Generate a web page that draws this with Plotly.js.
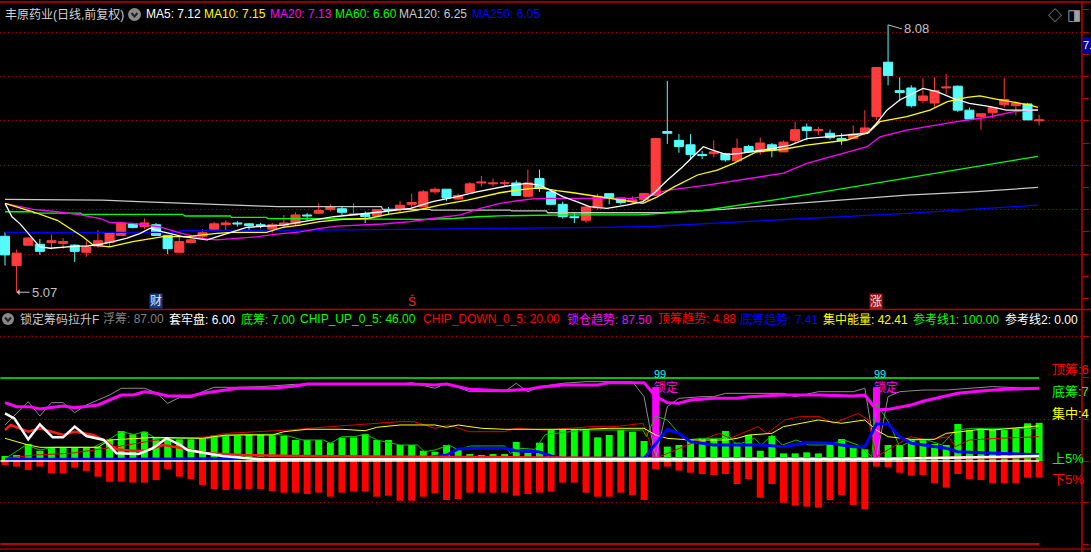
<!DOCTYPE html>
<html>
<head>
<meta charset="utf-8">
<script src="https://cdn.plot.ly/plotly-3.0.1.min.js"></script>
<style>
  html, body { margin: 0; padding: 0; background: #000; }
  #plot { width: 1091px; height: 552px; }
</style>
</head>
<body>
<div id="plot"></div>
<script>
// K线 (index 0..89)
const open = [5.70,5.37,5.60,5.61,5.63,5.62,5.60,5.52,5.59,5.63, 5.71,5.84,5.81,5.83,5.71,5.52,5.63,5.70,5.78,5.83,
  5.85,5.84,5.83,5.78,5.82,5.84,5.94,5.96,6.00,6.01, 5.94,5.95,5.93,6.00,6.00,6.06,6.03,6.20,6.23,6.12,
  6.19,6.30,6.29,6.30,6.30,6.15,6.35,6.20,6.06,5.92, 5.88,6.02,6.18,6.13,6.09,6.11,6.16,6.88,6.78,6.73,
  6.62,6.63,6.63,6.55,6.71,6.65,6.73,6.65,6.78,6.93, 6.89,6.86,6.80,6.80,6.86,7.05,7.66,7.34,7.37,7.23,
  7.20,7.37,7.39,7.12,7.05,7.09,7.18,7.17,7.19,7.00];
const high = [5.75,5.55,5.69,5.67,5.72,5.68,5.61,5.65,5.77,5.75, 5.86,5.85,5.90,5.85,5.71,5.70,5.67,5.78,5.86,5.88,
  5.87,5.85,5.85,5.85,5.94,5.97,5.96,6.07,6.06,6.03, 6.07,5.98,6.00,6.03,6.10,6.18,6.22,6.25,6.23,6.18,
  6.31,6.38,6.35,6.33,6.33,6.45,6.45,6.22,6.09,5.96, 6.05,6.18,6.18,6.13,6.15,6.19,6.80,7.45,6.85,6.85,
  6.66,6.78,6.64,6.80,6.73,6.81,6.75,6.78,6.99,6.97, 6.93,6.90,6.86,6.95,7.12,7.60,8.08,7.49,7.40,7.48,
  7.49,7.53,7.40,7.15,7.08,7.15,7.48,7.22,7.20,7.07];
const low = [5.37,5.07,5.59,5.49,5.55,5.56,5.41,5.47,5.57,5.58, 5.71,5.79,5.78,5.71,5.50,5.52,5.62,5.68,5.77,5.77,
  5.81,5.76,5.79,5.74,5.79,5.82,5.88,5.95,5.98,5.94, 5.94,5.85,5.93,5.95,5.97,6.03,6.03,6.18,6.10,6.11,
  6.19,6.26,6.26,6.26,6.16,6.15,6.20,6.05,5.90,5.85, 5.85,6.00,6.06,6.06,6.07,6.10,6.16,6.74,6.64,6.56,
  6.57,6.59,6.54,6.55,6.64,6.62,6.59,6.65,6.75,6.78, 6.84,6.79,6.73,6.80,6.84,7.01,7.40,7.22,7.15,7.20,
  7.15,7.30,7.10,7.01,6.90,7.03,7.15,7.06,7.01,6.95];
const close = [5.49,5.51,5.68,5.53,5.65,5.64,5.53,5.58,5.65,5.74, 5.85,5.80,5.85,5.71,5.56,5.64,5.66,5.74,5.84,5.85,
  5.84,5.82,5.82,5.83,5.85,5.94,5.93,5.99,6.03,5.97, 5.95,5.92,6.00,5.99,6.05,6.08,6.20,6.23,6.13,6.16,
  6.29,6.31,6.30,6.30,6.16,6.30,6.24,6.06,5.92,5.91, 6.03,6.15,6.13,6.08,6.11,6.18,6.80,6.86,6.71,6.62,
  6.61,6.65,6.56,6.69,6.65,6.75,6.67,6.76,6.90,6.89, 6.90,6.81,6.78,6.85,6.92,7.60,7.51,7.32,7.17,7.28,
  7.34,7.38,7.12,7.02,7.08,7.15,7.24,7.20,7.01,7.01];
const idx = open.map((_, i) => i);

// 均线 (sampled along the drawn lines)
const ma5Idx = [0,0.6,1.3,1.9,3,3.9,6.2,7,8.2,9.3,10.5,11.6,12.5,13.6,15.3,17.4,18.2,19.6,20.8,22.5,23.9,25.4,26.9,28.3,32.5,34.9,36.8,38.9,40.6,41.7,43.2,44.9,46,46.9,48,49.2,50.3,51.8,53.5,54.9,55.8,57,58.3,59.2,60.1,60.9,62.1,63.3,64.7,66.1,67.6,69,70.7,72.5,74.2,75,75.9,77,77.9,79,80.2,81.6,83,84.8,86.2,88.9];
const ma5 = [6.07,5.92,5.84,5.75,5.58,5.565,5.59,5.59,5.61,5.64,5.68,5.73,5.79,5.75,5.695,5.66,5.695,5.75,5.80,5.815,5.826,5.86,5.89,5.92,5.976,6.015,6.09,6.146,6.20,6.229,6.266,6.296,6.277,6.22,6.146,6.09,6.033,6.015,6.05,6.09,6.18,6.33,6.48,6.596,6.708,6.67,6.62,6.634,6.66,6.69,6.727,6.80,6.82,6.84,6.86,6.97,7.12,7.234,7.29,7.366,7.328,7.253,7.197,7.159,7.12,7.12];
const ma10Idx = [0,1,2.4,4.5,5.6,6.7,7.6,9,11,13.6,15.7,18.2,19.6,22.5,23.9,25.4,27.1,29.1,31.2,33.1,35.5,37.4,39.8,41.1,42.6,44.1,45.4,46.3,47.5,48.9,50.3,51.2,52.9,54,54.9,56.1,57.5,59.6,61.3,62.7,64.7,67,69,72.5,74.4,75.3,77.6,79.6,81.1,82.8,83.9,85.4,87.1,88.2,88.9];
const ma10 = [6.07,6.033,5.976,5.88,5.79,5.695,5.60,5.58,5.64,5.695,5.695,5.733,5.744,5.744,5.80,5.826,5.864,5.89,5.90,5.95,5.995,6.05,6.108,6.146,6.19,6.22,6.24,6.24,6.213,6.19,6.164,6.146,6.115,6.09,6.07,6.14,6.25,6.39,6.446,6.52,6.652,6.68,6.727,6.784,6.877,6.99,7.046,7.12,7.215,7.265,7.28,7.242,7.204,7.178,7.152];
const ma20Idx = [0,1,2.4,4.5,6.5,8.2,9,11,13.3,15.2,17,18.2,19.6,21.7,23.4,25.4,27.1,28.6,32.5,34.9,36.8,39.2,40.9,42.6,44.1,45.4,46.6,54,54.9,56.1,57.1,60.4,63.3,67,69,72.1,74.2,75.3,77.6,81.9,84.8,86.7,88.9];
const ma20 = [6.07,6.04,6.003,5.976,5.94,5.90,5.856,5.845,5.807,5.733,5.677,5.66,5.677,5.695,5.725,5.75,5.79,5.815,5.838,5.864,5.90,5.94,6.015,6.07,6.10,6.12,6.127,6.127,6.146,6.183,6.22,6.277,6.333,6.41,6.52,6.634,6.708,6.82,6.896,6.99,7.046,7.10,7.13];
const ma60Idx = [0,2.4,2.5,6.5,6.6,15.3,15.5,19.4,19.5,22.5,22.6,31,36,38.6,40.6,42.6,48.4,54.6,60.1,66.1,74.7,81.9,88.9];
const ma60 = [5.976,5.976,5.96,5.96,5.947,5.947,5.928,5.928,5.913,5.913,5.90,5.89,5.89,5.90,5.92,5.93,5.94,5.94,5.99,6.108,6.296,6.446,6.60];
const ma120Idx = [0,8.4,11.5,13.6,16.5,21.5,23.5,32.4,32.5,36.6,36.7,43.5,43.6,46.6,46.7,56.5,61.8,66.1,71.9,77.6,83.3,88.9];
const ma120 = [6.116,6.108,6.09,6.08,6.07,6.05,6.033,6.033,6.003,6.003,5.995,5.995,5.985,5.985,5.965,5.965,6.003,6.05,6.108,6.164,6.20,6.25];
const ma250Idx = [0,15,15.1,26.5,26.6,34,46.6,51.2,55.5,66.1,77.6,88.9];
const ma250 = [5.744,5.744,5.762,5.762,5.77,5.778,5.79,5.80,5.81,5.883,5.958,6.05];

// 锁定筹码拉升F
const chipUp = [6.0,7.2,20.5,12.4,16.5,16.5,16.5,16.5,17.3,26.1, 36.1,32.1,35.3,28.1,28.1,26.1,26.1,27.3,30.9,31.3,
  30.9,32.1,32.1,30.9,30.1,25.3,25.3,25.3,22.1,28.1, 28.5,32.5,25.3,25.3,19.3,19.3,12.4,11.2,19.3,14.9,
  8.4,7.2,8.4,8.4,22.9,10.0,22.1,38.2,38.2,38.2, 38.2,28.5,31.3,37.3,35.3,24.1,3.0,17.3,19.3,25.3,
  26.5,26.5,36.1,22.1,31.3,12.4,30.1,9.2,9.2,10.4, 9.2,20.5,26.5,17.3,14.1,3.0,19.3,19.3,26.1,26.1,
  20.5,19.3,44.6,37.3,39.4,38.2,37.3,39.4,45.4,46.0];
const chipDown = [4.8,6.8,10.8,6.8,14.9,14.9,8.0,12.0,18.9,24.9, 24.9,26.1,26.1,22.9,9.6,18.9,21.7,28.9,33.7,34.9,
  33.7,33.7,33.7,36.1,38.2,38.2,39.8,38.2,43.0,38.2, 36.9,36.9,43.0,41.8,47.8,47.8,43.0,39.0,47.0,45.8,
  38.2,38.2,38.2,38.2,41.8,39.8,38.2,36.9,26.1,26.1, 38.2,43.0,43.0,38.2,41.0,47.0,10.0,6.8,11.6,14.1,
  15.7,16.9,15.7,27.7,21.7,44.2,27.7,50.2,53.8,55.0, 56.2,47.0,41.0,53.0,58.2,6.8,7.6,14.1,17.7,16.9,
  26.9,32.1,15.7,21.7,22.9,26.9,26.9,26.9,20.1,20.0];
const lockIdx = [56, 75];
const lockTop = [89, 89];
const lockText = ['99', '99'];

const lockTrendIdx = [0,1,2,3,5,6,8,9,10,11,12,13,14,16,17,19,20,23,25,26,35,37,38,40,42,43,45,46,48,51,52,55,56,57,58,59,61,63,64,67,70,73,74,75,76,78,79,82,84,86,89];
const lockTrend = [70.3,65.5,65.5,62.7,66.3,64.3,67.5,73.5,79.5,79.5,83.5,81.5,78.3,78.3,81.5,85.5,87.6,87.6,90.4,92.8,92.8,91.6,92.8,86.3,84.7,84.7,86.3,88.8,91.6,91.6,94.4,94.4,77.5,70.3,69.5,73.5,75.5,75.5,77.5,79.5,79.5,78.3,79.5,61.4,62.2,67.5,72,81.5,84.3,86.3,87.5];
const floatIdx = [0,2,3,4,5,6,7,8,9,10,12,13,14,15,16,17,18,20,22,25,34,35,37,38,40,43,44,45,46,48,50,54,55,56,57,58,60,61,62,67,68,70,73,74,75,76,77,79,81,85,89];
const floatChip = [43.4,71.5,54.2,70.3,70.3,58.2,67.5,73.5,79.5,87.6,87.6,82.3,69.5,76.3,76.3,83.5,88.8,88.8,89.6,92.4,92.4,94.4,87.6,93.6,83.5,83.5,93.6,83.5,89.6,93.6,95.6,95.6,77.5,3.2,65.5,75.5,77.5,77.5,81.5,81.5,77.5,83.5,83.5,87.6,3.2,77.5,83.5,85.5,85.5,89.6,87.0];
const energyIdx = [0,2,3,8,9,13,17,19,23,24,26,29,31,32,34,37,38,39,41,43,47,50,52,55,56,57,59,62,63,64,66,67,70,72,74,75,76,78,80,81,84,85,89];
const energy = [27.3,19.3,16.5,16.5,25.3,28.5,27.3,31.3,31.3,35.3,38.2,38.2,36.5,40.6,43.4,43.4,40.6,43.4,39.4,38.2,38.2,38.2,39.4,39.4,31.3,27.3,25.3,25.3,27.3,31.3,33.3,41.4,49.4,45.4,49.4,37.3,29.3,26.1,26.1,33.3,38.2,37.3,42.4];
const bottomTrendIdx = [0,10,25,36,38,39,40,43,44,46,47,48,55,56,57,58,59,61,65,67,69,70,71,73,74,75,76,77,78,81,82,84,89];
const bottomTrend = [2.0,2.0,3.2,3.2,7.2,14.5,15.3,15.3,12.4,11,6,3.2,3.2,20,38.2,33.3,23.3,19.3,19.3,17.3,22.1,22.1,21.3,17.3,17.3,44.6,44.6,29.3,21.3,15.3,11.2,10.0,7.4];
const topTrendIdx = [0,0.5,2,3,5,6,7.6,8.5,9.6,10.9,12.1,13.6,14.8,17.5,20.5,25,35,46,56,75,89];
const topTrend = [37.3,43.4,35.3,39.4,31.3,35.3,31.3,25.3,14.1,12.4,12.4,19.3,16.5,9.2,7.2,6.0,5.2,4.5,3.2,3.2,4.88];
const trappedIdx = [0,0.8,2,3,4.1,5,6,7,8.5,9.6,11.5,12.7,13.9,15.1,15.7,17.5,18.7,22,40,56,75,89];
const trapped = [57.4,51.4,26.1,44.2,28.5,28.5,41.4,30.1,25.3,9.2,8.4,15.3,27.3,19.3,13.3,9.2,6.0,2.0,2.0,2.5,2.5,6.0];
const topChipIdx = [0,2.6,5.6,9.7,13,17.5,19,24.4,28,34,35.2,37,38.2,39.9,43,43.9,46.5,50.4,52.5,54.9,56,57,59.1,61.5,62.4,64.8,65.6,67.1,68.4,70.1,71.3,72,73.4,74.3,75,77.9,79.4,81.2,81.8,83,85.4,89];
const topChip = [3.2,7.2,9.2,17.3,25.3,29.3,33.3,37.3,41.4,47.4,47.4,39.4,43.4,35.3,35.3,39.4,37.3,41.4,41.4,45.4,3.2,9.2,21.3,33.3,27.3,41.4,33.3,49.4,53.4,53.4,45.4,49.4,57.4,49.4,5.2,29.3,25.3,29.3,17.3,25.3,27.3,29.3];
const bottomChipIdx = [0,0.5,1.8,3,4.1,7.6,9.1,10,11.1,12,13,14.5,17.5,19,20.5,23.5,24.4,25.6,27.4,28,29,30.1,31,32,34,35.5,36.1,37,38.2,39,40,43,43.5,44.4,45.6,46.5,50,54.9,55.2,56,57,58.5,60,61.8,62.1,63,64.5,65.1,66,66.9,68.1,69.2,70.4,71.3,72.2,73.4,74.6,75,76.1,77,78.2,79.4,80.6,81.8,83.3,89];
const bottomChip = [3.2,7.2,19.3,13.3,16.5,16.5,27.3,35.3,32.1,35.3,27.3,27.3,27.3,30.1,32.1,32.1,30.1,25.3,25.3,21.3,29.3,29.3,32.5,25.3,19.3,19.3,11.2,13.3,19.3,13.3,18.1,18.1,9.2,15.3,14.1,32,37.3,37.3,29.3,54.2,49.4,25.3,27.3,27.3,33.3,19.3,27.3,19.3,31.3,19.3,25.3,19.3,19.3,21.3,25.3,19.3,5.2,69.5,45.4,17.3,25.3,25.3,19.3,37.3,39.4,39.4];
const refLines = [100, 0, -100];

// price grid / indicator grid
const priceGrid = [5.5, 6.0, 6.5, 7.0, 7.5, 8.0];
const indGrid = [150, 50, -50];

// text in headers
const header1 = [
  ['丰原药业(日线,前复权)', '#d2d2d2', 3],
  ['MA5: 7.12', '#ffffff', 144], ['MA10: 7.15', '#ffff00', 202], ['MA20: 7.13', '#ff00ff', 268],
  ['MA60: 6.60', '#00ff00', 333], ['MA120: 6.25', '#c8c8c8', 397], ['MA250: 6.05', '#0000ff', 470]
];
const header2 = [
  ['锁定筹码拉升F', '#c8c8c8', 18], ['浮筹: 87.00', '#808080', 101], ['套牢盘: 6.00', '#ffffff', 167],
  ['底筹: 7.00', '#00ff00', 239], ['CHIP_UP_0_5: 46.00', '#00ff00', 298], ['CHIP_DOWN_0_5: 20.00', '#ff0000', 421],
  ['锁仓趋势: 87.50', '#ff00ff', 565], ['顶筹趋势: 4.88', '#ff0000', 656], ['底筹趋势: 7.41', '#0000ff', 738],
  ['集中能量: 42.41', '#ffff00', 821], ['参考线1: 100.00', '#00ff00', 911], ['参考线2: 0.00', '#ffffff', 1003]
];
const sideLabels = [
  ['顶筹:6', '#ff0000', 369], ['底筹:7', '#00ff00', 391], ['集中:4', '#ffff00', 413],
  ['上5%', '#00ff00', 458], ['下5%', '#ff0000', 479]
];
const eventIdx = [13, 35, 75];
const eventText = ['财', 'Ŝ', '涨'];

const FONT = "'Liberation Sans', 'Noto Sans CJK SC', sans-serif";
const W = 1082, H = 552;
const px = x => x / W;
const py = y => 1 - y / H;

function line(x, y, color, width, yaxis) {
  return { type: 'scatter', mode: 'lines', x: x, y: y, yaxis: yaxis || 'y',
    line: { color: color, width: width }, hoverinfo: 'skip' };
}
function bars(x, y, color) {
  return { type: 'bar', x: x, y: y, yaxis: 'y2', width: 0.6,
    marker: { color: color, line: { width: 0 } }, hoverinfo: 'skip' };
}

const candles = {
  type: 'candlestick', x: idx, open: open, high: high, low: low, close: close,
  increasing: { line: { color: '#ff3c3c', width: 1 }, fillcolor: '#ff3c3c' },
  decreasing: { line: { color: '#54fcfc', width: 1 }, fillcolor: '#54fcfc' },
  whiskerwidth: 0, hoverinfo: 'skip'
};

const traces = [
  line(ma250Idx, ma250, '#0000ff', 1.3),
  line(ma120Idx, ma120, '#c8c8c8', 1.3),
  line(ma60Idx, ma60, '#00ff00', 1.3),
  line(ma20Idx, ma20, '#ff00ff', 1.3),
  line(ma10Idx, ma10, '#ffff00', 1.3),
  candles,
  line(ma5Idx, ma5, '#ffffff', 1.3),

  bars(idx, chipUp, '#00ff00'),
  bars(idx, chipDown.map(v => -v), '#ff0000'),
  bars(lockIdx, lockTop, '#ff00ff'),
  line(floatIdx, floatChip, '#8c8c8c', 1, 'y2'),
  line(topChipIdx, topChip, '#e00000', 1, 'y2'),
  line(bottomChipIdx, bottomChip, '#00c800', 1, 'y2'),
  line(energyIdx, energy, '#ffff00', 1, 'y2'),
  line(bottomTrendIdx, bottomTrend, '#0000ff', 3, 'y2'),
  line(topTrendIdx, topTrend, '#ff1a1a', 2.5, 'y2'),
  line(trappedIdx, trapped, '#ffffff', 2.5, 'y2'),
  line(lockTrendIdx, lockTrend, '#ff00ff', 3, 'y2')
];

const annotations = [];
function label(text, color, x, y, size, extra) {
  annotations.push(Object.assign({
    text: text, x: px(x), y: py(y), xref: 'paper', yref: 'paper',
    xanchor: 'left', yanchor: 'middle', showarrow: false,
    font: { color: color, size: size || 12, family: FONT }
  }, extra || {}));
}
header1.forEach(h => label(h[0], h[1], h[2], 14.5));
header2.forEach(h => label(h[0], h[1], h[2], 319));
sideLabels.forEach(h => label(h[0], h[1], 1050, h[2], 13));
label('◇', '#a0a0a0', 1046, 15, 14);
label('◨', '#a0a0a0', 1065, 14, 15);
label('7.', '#ffffff', 1082, 45, 11, { borderpad: 0 });

// events under the price panel
eventIdx.forEach((i, k) => {
  const boxed = eventText[k] !== 'Ŝ';
  annotations.push({
    text: eventText[k], x: i, y: py(301), xref: 'x', yref: 'paper', showarrow: false,
    xanchor: 'center', yanchor: 'middle',
    font: { color: boxed ? (k === 0 ? '#e6e6ff' : '#ffd8d8') : '#ff2020', size: 12, family: FONT },
    bgcolor: boxed ? (k === 0 ? '#1c3c7c' : '#a01818') : 'rgba(0,0,0,0)', borderpad: 0
  });
});

// high / low markers
const lowMin = Math.min(...low), lowAt = low.indexOf(lowMin);
const highMax = Math.max(...high), highAt = high.indexOf(highMax);
annotations.push({ x: lowAt, y: lowMin, xref: 'x', yref: 'y', text: lowMin.toFixed(2), showarrow: true,
  ax: 13, ay: 0, xanchor: 'left', arrowhead: 1, arrowsize: 1, arrowwidth: 1, arrowcolor: '#c0c0c0',
  font: { color: '#c0c0c0', size: 13, family: FONT } });
annotations.push({ x: highAt, y: highMax, xref: 'x', yref: 'y', text: highMax.toFixed(2), showarrow: true,
  ax: 14, ay: 4, xanchor: 'left', arrowhead: 0, arrowwidth: 1, arrowcolor: '#c0c0c0',
  font: { color: '#c0c0c0', size: 13, family: FONT } });

// lock markers
lockIdx.forEach((i, k) => {
  annotations.push({ x: i, y: lockTop[k] + 16, xref: 'x', yref: 'y2', text: lockText[k], showarrow: false,
    xshift: 4, font: { color: '#00ffff', size: 11, family: FONT } });
  annotations.push({ x: i, y: lockTop[k] - 1, xref: 'x', yref: 'y2', text: '锁定', showarrow: false,
    xanchor: 'left', xshift: -4, font: { color: '#ff00ff', size: 12, family: FONT } });
});

const shapes = [
  // frame
  { type: 'line', xref: 'paper', yref: 'paper', x0: 0, x1: 1091 / W, y0: py(2), y1: py(2), line: { color: '#c00000', width: 1.5 } },
  { type: 'line', xref: 'paper', yref: 'paper', x0: 0, x1: 1091 / W, y0: py(309.5), y1: py(309.5), line: { color: '#c00000', width: 1.5 } },
  { type: 'line', xref: 'paper', yref: 'paper', x0: 0, x1: 1091 / W, y0: py(549), y1: py(549), line: { color: '#a00000', width: 1.5 } },
  { type: 'line', xref: 'paper', yref: 'paper', x0: 1, x1: 1, y0: 0, y1: py(2), line: { color: '#c00000', width: 1.5 } },
  // current price box on the axis
  { type: 'rect', xref: 'paper', yref: 'paper', x0: px(1082.5), x1: px(1091), y0: py(53), y1: py(37), fillcolor: '#0000a0', line: { width: 0 } },
  // header dropdown icons
  { type: 'circle', xref: 'paper', yref: 'paper', x0: px(128), x1: px(141), y0: py(21), y1: py(8), fillcolor: '#8a8a8a', line: { width: 0 } },
  { type: 'circle', xref: 'paper', yref: 'paper', x0: px(2), x1: px(14), y0: py(325), y1: py(313), fillcolor: '#8a8a8a', line: { width: 0 } },
  { type: 'path', xref: 'paper', yref: 'paper', path: `M ${px(131.5)} ${py(13)} L ${px(134.5)} ${py(16.5)} L ${px(137.5)} ${py(13)}`, line: { color: '#202020', width: 2 } },
  { type: 'path', xref: 'paper', yref: 'paper', path: `M ${px(5)} ${py(317.5)} L ${px(8)} ${py(321)} L ${px(11)} ${py(317.5)}`, line: { color: '#202020', width: 2 } }
];
const refColors = ['#00ff00', '#ffffff', '#ff0000'];
refLines.forEach((v, k) => shapes.push({ type: 'line', xref: 'x', yref: 'y2', x0: idx[0] - 0.4, x1: idx[idx.length - 1],
  y0: v, y1: v, line: { color: refColors[k], width: 1.5 }, layer: 'above' }));

const axisCommon = {
  side: 'right', showticklabels: false, ticks: 'outside', ticklen: 6, tickcolor: '#c00000',
  showgrid: true, gridcolor: '#9a0000', griddash: '1px,3px', gridwidth: 1, zeroline: false, showline: false, fixedrange: true
};

const layout = {
  width: 1091, height: 552,
  paper_bgcolor: '#000000', plot_bgcolor: '#000000',
  margin: { l: 0, r: 9, t: 0, b: 0 },
  showlegend: false,
  barmode: 'overlay', bargap: 0.4, boxgap: 0.22, boxgroupgap: 0,
  font: { family: FONT },
  xaxis: { range: [-0.43, 92.69], showgrid: false, zeroline: false, showticklabels: false, ticks: '',
    showline: false, rangeslider: { visible: false }, fixedrange: true },
  yaxis: Object.assign({}, axisCommon, { domain: [py(309), py(2)], range: [4.881, 8.338], tickvals: priceGrid,
    minor: { dtick: 0.25, ticks: 'outside', ticklen: 6, tickcolor: '#c00000', showgrid: false } }),
  yaxis2: Object.assign({}, axisCommon, { domain: [py(548), py(310)], range: [-104.8, 181.9], anchor: 'x', tickvals: indGrid,
    minor: { dtick: 50, ticks: 'outside', ticklen: 6, tickcolor: '#c00000', showgrid: false } }),
  annotations: annotations,
  shapes: shapes
};

Plotly.newPlot('plot', traces, layout, { displayModeBar: false, staticPlot: true });
</script>
</body>
</html>
